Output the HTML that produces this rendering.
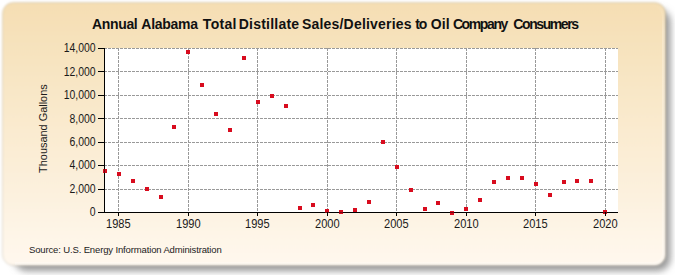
<!DOCTYPE html>
<html><head><meta charset="utf-8"><style>
html,body{margin:0;padding:0;background:#fff;width:675px;height:275px;overflow:hidden}
svg{display:block;font-family:"Liberation Sans",sans-serif}
</style></head><body>
<svg width="675" height="275" viewBox="0 0 675 275">
<defs>
<linearGradient id="bg" x1="0" y1="0" x2="0" y2="1">
<stop offset="0" stop-color="#F5DEB3"/>
<stop offset="1" stop-color="#FFF8EE"/>
</linearGradient>
<filter id="sh" x="-10%" y="-20%" width="120%" height="140%"><feGaussianBlur stdDeviation="3.5"/></filter>
<filter id="bb" x="-2%" y="-2%" width="104%" height="104%"><feGaussianBlur stdDeviation="1.1"/></filter>
<linearGradient id="hl" gradientUnits="userSpaceOnUse" x1="0" y1="4" x2="0" y2="30"><stop offset="0" stop-color="#fff" stop-opacity="0"/><stop offset="1" stop-color="#fff" stop-opacity="0.22"/></linearGradient>
</defs>
<rect x="14" y="9" width="656.5" height="262" rx="13" fill="#989898" filter="url(#sh)"/>
<rect x="2.5" y="2.5" width="663" height="263" rx="11" fill="url(#bg)" stroke="rgba(110,100,80,0.22)" stroke-width="1" filter="url(#bb)"/>
<path d="M651.5,4.5 A12,12 0 0 1 663.5,16.5 L663.5,253.5 A10,10 0 0 1 653.5,263.5 L15,263.5" fill="none" stroke="url(#hl)" stroke-width="3"/>

<rect x="104" y="48" width="514" height="164" fill="#fff"/>
<line x1="104" y1="48.5" x2="618" y2="48.5" stroke="#999999" stroke-width="1" stroke-dasharray="3,1"/>
<line x1="104" y1="71.5" x2="618" y2="71.5" stroke="#999999" stroke-width="1" stroke-dasharray="3,1"/>
<line x1="104" y1="95.5" x2="618" y2="95.5" stroke="#999999" stroke-width="1" stroke-dasharray="3,1"/>
<line x1="104" y1="118.5" x2="618" y2="118.5" stroke="#999999" stroke-width="1" stroke-dasharray="3,1"/>
<line x1="104" y1="142.5" x2="618" y2="142.5" stroke="#999999" stroke-width="1" stroke-dasharray="3,1"/>
<line x1="104" y1="165.5" x2="618" y2="165.5" stroke="#999999" stroke-width="1" stroke-dasharray="3,1"/>
<line x1="104" y1="189.5" x2="618" y2="189.5" stroke="#999999" stroke-width="1" stroke-dasharray="3,1"/>
<line x1="118.5" y1="48" x2="118.5" y2="212" stroke="#999999" stroke-width="1" stroke-dasharray="3,1"/>
<line x1="188.5" y1="48" x2="188.5" y2="212" stroke="#999999" stroke-width="1" stroke-dasharray="3,1"/>
<line x1="257.5" y1="48" x2="257.5" y2="212" stroke="#999999" stroke-width="1" stroke-dasharray="3,1"/>
<line x1="327.5" y1="48" x2="327.5" y2="212" stroke="#999999" stroke-width="1" stroke-dasharray="3,1"/>
<line x1="396.5" y1="48" x2="396.5" y2="212" stroke="#999999" stroke-width="1" stroke-dasharray="3,1"/>
<line x1="466.5" y1="48" x2="466.5" y2="212" stroke="#999999" stroke-width="1" stroke-dasharray="3,1"/>
<line x1="535.5" y1="48" x2="535.5" y2="212" stroke="#999999" stroke-width="1" stroke-dasharray="3,1"/>
<line x1="605.5" y1="48" x2="605.5" y2="212" stroke="#999999" stroke-width="1" stroke-dasharray="3,1"/>
<line x1="104.5" y1="48" x2="104.5" y2="213" stroke="#000" stroke-width="1"/>
<line x1="104" y1="212.5" x2="618" y2="212.5" stroke="#000" stroke-width="1"/>
<rect x="103" y="169" width="4" height="4" fill="#D80C1E"/>
<rect x="117" y="172" width="4" height="4" fill="#D80C1E"/>
<rect x="131" y="179" width="4" height="4" fill="#D80C1E"/>
<rect x="145" y="187" width="4" height="4" fill="#D80C1E"/>
<rect x="159" y="195" width="4" height="4" fill="#D80C1E"/>
<rect x="172" y="125" width="4" height="4" fill="#D80C1E"/>
<rect x="186" y="50" width="4" height="4" fill="#D80C1E"/>
<rect x="200" y="83" width="4" height="4" fill="#D80C1E"/>
<rect x="214" y="112" width="4" height="4" fill="#D80C1E"/>
<rect x="228" y="128" width="4" height="4" fill="#D80C1E"/>
<rect x="242" y="56" width="4" height="4" fill="#D80C1E"/>
<rect x="256" y="100" width="4" height="4" fill="#D80C1E"/>
<rect x="270" y="94" width="4" height="4" fill="#D80C1E"/>
<rect x="284" y="104" width="4" height="4" fill="#D80C1E"/>
<rect x="298" y="206" width="4" height="4" fill="#D80C1E"/>
<rect x="311" y="203" width="4" height="4" fill="#D80C1E"/>
<rect x="325" y="209" width="4" height="4" fill="#D80C1E"/>
<rect x="339" y="210" width="4" height="4" fill="#D80C1E"/>
<rect x="353" y="208" width="4" height="4" fill="#D80C1E"/>
<rect x="367" y="200" width="4" height="4" fill="#D80C1E"/>
<rect x="381" y="140" width="4" height="4" fill="#D80C1E"/>
<rect x="395" y="165" width="4" height="4" fill="#D80C1E"/>
<rect x="409" y="188" width="4" height="4" fill="#D80C1E"/>
<rect x="423" y="207" width="4" height="4" fill="#D80C1E"/>
<rect x="436" y="201" width="4" height="4" fill="#D80C1E"/>
<rect x="450" y="211" width="4" height="4" fill="#D80C1E"/>
<rect x="464" y="207" width="4" height="4" fill="#D80C1E"/>
<rect x="478" y="198" width="4" height="4" fill="#D80C1E"/>
<rect x="492" y="180" width="4" height="4" fill="#D80C1E"/>
<rect x="506" y="176" width="4" height="4" fill="#D80C1E"/>
<rect x="520" y="176" width="4" height="4" fill="#D80C1E"/>
<rect x="534" y="182" width="4" height="4" fill="#D80C1E"/>
<rect x="548" y="193" width="4" height="4" fill="#D80C1E"/>
<rect x="562" y="180" width="4" height="4" fill="#D80C1E"/>
<rect x="575" y="179" width="4" height="4" fill="#D80C1E"/>
<rect x="589" y="179" width="4" height="4" fill="#D80C1E"/>
<rect x="603" y="210" width="4" height="4" fill="#D80C1E"/>
<line x1="104.5" y1="48" x2="104.5" y2="213" stroke="#000" stroke-width="1" opacity="0.45"/>
<line x1="104" y1="212.5" x2="618" y2="212.5" stroke="#000" stroke-width="1" opacity="0.45"/>
<line x1="98" y1="48.5" x2="104" y2="48.5" stroke="#000" stroke-width="1"/>
<text transform="translate(95.6,52.30) scale(0.87,1)" font-size="12" text-anchor="end" fill="#1a1a1a">14,000</text>
<line x1="98" y1="71.5" x2="104" y2="71.5" stroke="#000" stroke-width="1"/>
<text transform="translate(95.6,75.73) scale(0.87,1)" font-size="12" text-anchor="end" fill="#1a1a1a">12,000</text>
<line x1="98" y1="95.5" x2="104" y2="95.5" stroke="#000" stroke-width="1"/>
<text transform="translate(95.6,99.16) scale(0.87,1)" font-size="12" text-anchor="end" fill="#1a1a1a">10,000</text>
<line x1="98" y1="118.5" x2="104" y2="118.5" stroke="#000" stroke-width="1"/>
<text transform="translate(95.6,122.59) scale(0.87,1)" font-size="12" text-anchor="end" fill="#1a1a1a">8,000</text>
<line x1="98" y1="142.5" x2="104" y2="142.5" stroke="#000" stroke-width="1"/>
<text transform="translate(95.6,146.01) scale(0.87,1)" font-size="12" text-anchor="end" fill="#1a1a1a">6,000</text>
<line x1="98" y1="165.5" x2="104" y2="165.5" stroke="#000" stroke-width="1"/>
<text transform="translate(95.6,169.44) scale(0.87,1)" font-size="12" text-anchor="end" fill="#1a1a1a">4,000</text>
<line x1="98" y1="189.5" x2="104" y2="189.5" stroke="#000" stroke-width="1"/>
<text transform="translate(95.6,192.87) scale(0.87,1)" font-size="12" text-anchor="end" fill="#1a1a1a">2,000</text>
<line x1="98" y1="212.5" x2="104" y2="212.5" stroke="#000" stroke-width="1"/>
<text transform="translate(95.6,216.30) scale(0.87,1)" font-size="12" text-anchor="end" fill="#1a1a1a">0</text>
<line x1="118.5" y1="212" x2="118.5" y2="216" stroke="#000" stroke-width="1"/>
<text transform="translate(118.3,227.6) scale(0.925,1)" font-size="12" text-anchor="middle" fill="#1a1a1a">1985</text>
<line x1="188.5" y1="212" x2="188.5" y2="216" stroke="#000" stroke-width="1"/>
<text transform="translate(188.3,227.6) scale(0.925,1)" font-size="12" text-anchor="middle" fill="#1a1a1a">1990</text>
<line x1="257.5" y1="212" x2="257.5" y2="216" stroke="#000" stroke-width="1"/>
<text transform="translate(257.3,227.6) scale(0.925,1)" font-size="12" text-anchor="middle" fill="#1a1a1a">1995</text>
<line x1="327.5" y1="212" x2="327.5" y2="216" stroke="#000" stroke-width="1"/>
<text transform="translate(327.3,227.6) scale(0.925,1)" font-size="12" text-anchor="middle" fill="#1a1a1a">2000</text>
<line x1="396.5" y1="212" x2="396.5" y2="216" stroke="#000" stroke-width="1"/>
<text transform="translate(396.3,227.6) scale(0.925,1)" font-size="12" text-anchor="middle" fill="#1a1a1a">2005</text>
<line x1="466.5" y1="212" x2="466.5" y2="216" stroke="#000" stroke-width="1"/>
<text transform="translate(466.3,227.6) scale(0.925,1)" font-size="12" text-anchor="middle" fill="#1a1a1a">2010</text>
<line x1="535.5" y1="212" x2="535.5" y2="216" stroke="#000" stroke-width="1"/>
<text transform="translate(535.3,227.6) scale(0.925,1)" font-size="12" text-anchor="middle" fill="#1a1a1a">2015</text>
<line x1="605.5" y1="212" x2="605.5" y2="216" stroke="#000" stroke-width="1"/>
<text transform="translate(605.3,227.6) scale(0.925,1)" font-size="12" text-anchor="middle" fill="#1a1a1a">2020</text>
<text x="92.00" y="28.9" font-size="14" font-weight="bold" letter-spacing="-0.340" fill="#111">Annual</text>
<text x="141.30" y="28.9" font-size="14" font-weight="bold" letter-spacing="-0.267" fill="#111">Alabama</text>
<text x="202.80" y="28.9" font-size="14" font-weight="bold" letter-spacing="0.325" fill="#111">Total</text>
<text x="238.70" y="28.9" font-size="14" font-weight="bold" letter-spacing="0.233" fill="#111">Distillate</text>
<text x="301.90" y="28.9" font-size="14" font-weight="bold" letter-spacing="0.207" fill="#111">Sales/Deliveries</text>
<text x="415.20" y="28.9" font-size="14" font-weight="bold" letter-spacing="-1.000" fill="#111">to</text>
<text x="430.70" y="28.9" font-size="14" font-weight="bold" letter-spacing="0.150" fill="#111">Oil</text>
<text x="452.90" y="28.9" font-size="14" font-weight="bold" letter-spacing="-1.383" fill="#111">Company</text>
<text x="513.30" y="28.9" font-size="14" font-weight="bold" letter-spacing="-1.412" fill="#111">Consumers</text>
<text transform="translate(47.3,128.6) rotate(-90) scale(0.95,1)" font-size="11.5" text-anchor="middle" fill="#1a1a1a">Thousand Gallons</text>
<text x="29" y="253.2" font-size="9.5" letter-spacing="-0.14" fill="#222">Source: U.S. Energy Information Administration</text>
</svg></body></html>
